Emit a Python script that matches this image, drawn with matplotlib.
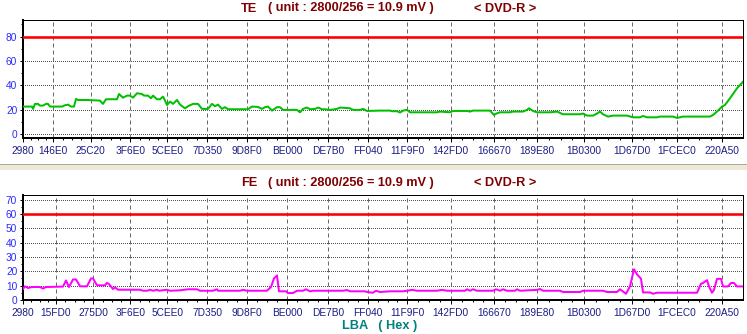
import matplotlib
matplotlib.use("Agg")
import matplotlib.pyplot as plt
from matplotlib.lines import Line2D
from matplotlib.patches import Rectangle
from matplotlib.ticker import FixedLocator
import numpy as np

# ---------------- data ----------------
te_pos = [0, 9, 10, 12, 15, 17, 20, 23, 25, 27, 39, 42, 45, 48, 51, 53, 55, 64, 77, 80,
          83, 94, 96, 100, 104, 107, 110, 114, 119, 121, 125, 128, 130, 134, 137, 140, 142, 144, 147, 150,
          154, 157, 162, 165, 170, 175, 179, 185, 189, 192, 195, 199, 202, 205, 225, 229, 235, 239, 242, 245,
          249, 254, 257, 260, 274, 277, 280, 284, 287, 292, 295, 299, 302, 307, 314, 317, 327, 330, 337, 340,
          344, 357, 367, 369, 374, 377, 380, 384, 387, 414, 417, 427, 430, 444, 447, 450, 467, 471, 474, 477,
          487, 490, 500, 504, 506, 510, 514, 527, 534, 540, 557, 560, 564, 570, 574, 577, 580, 585, 590, 604,
          610, 617, 620, 624, 634, 637, 650, 654, 660, 687, 690, 694, 699, 702, 707, 710, 714, 717, 720]
te_val = [22.7, 22.7, 20.8, 24.9, 24.9, 23.5, 23.5, 24.9, 24.9, 22.7, 22.7, 23.8, 24.3, 22.7, 22.7, 29.0, 28.1, 28.1, 27.6, 24.9,
          28.7, 28.7, 33.0, 30.0, 31.7, 31.7, 30.0, 33.6, 33.0, 31.7, 31.7, 29.5, 31.7, 28.7, 28.7, 30.9, 27.6, 24.0, 26.8, 24.9,
          28.1, 24.3, 21.3, 23.0, 24.9, 24.9, 20.8, 20.8, 24.9, 23.0, 24.3, 20.8, 22.2, 20.5, 20.5, 22.7, 22.4, 20.8, 22.2, 22.7,
          19.4, 22.2, 22.2, 20.0, 20.0, 18.0, 20.8, 21.9, 20.5, 20.8, 21.9, 20.5, 20.5, 19.9, 20.8, 21.9, 21.3, 20.0, 20.0, 20.8,
          19.1, 19.4, 19.4, 18.9, 18.9, 17.8, 19.4, 20.0, 18.0, 18.0, 18.6, 18.0, 19.1, 19.1, 18.6, 19.4, 19.4, 15.8, 17.2, 18.0,
          18.0, 18.6, 18.6, 20.0, 21.3, 19.1, 18.0, 18.0, 18.6, 16.4, 16.4, 17.0, 15.3, 15.3, 17.0, 18.6, 16.4, 14.5, 15.3, 15.3,
          13.9, 13.9, 15.0, 13.9, 13.9, 14.5, 14.5, 13.4, 14.5, 14.5, 15.8, 18.6, 22.7, 24.0, 29.5, 33.0, 37.7, 40.4, 43.0]

fe_pos = [0, 2, 5, 9, 17, 20, 23, 40, 43, 46, 50, 53, 57, 64, 68, 70, 74, 82, 84, 86,
          90, 92, 95, 117, 120, 124, 127, 130, 134, 136, 144, 147, 157, 165, 174, 177, 190, 194, 195, 217,
          220, 224, 244, 248, 251, 254, 256, 263, 265, 270, 274, 280, 283, 287, 290, 320, 324, 327, 342, 344,
          350, 353, 357, 367, 380, 384, 389, 394, 414, 419, 424, 442, 444, 447, 450, 454, 470, 473, 477, 480,
          484, 492, 494, 497, 514, 517, 520, 537, 540, 557, 560, 580, 584, 594, 597, 603, 607, 611, 614, 618,
          620, 627, 630, 634, 637, 674, 678, 680, 684, 686, 689, 691, 694, 698, 700, 705, 708, 711, 714, 720]
fe_val = [7.6, 9.5, 8.3, 9.0, 9.0, 7.9, 9.0, 9.3, 13.6, 9.0, 14.3, 14.3, 9.5, 9.5, 15.0, 15.0, 10.2, 10.2, 11.9, 11.0,
          7.6, 8.8, 7.1, 7.1, 6.4, 6.4, 7.1, 6.4, 7.1, 6.4, 7.1, 6.4, 6.7, 7.4, 7.4, 6.4, 6.4, 7.4, 6.4, 6.4,
          7.0, 6.4, 6.4, 9.0, 15.0, 17.1, 6.0, 6.0, 4.8, 4.8, 6.4, 6.4, 7.4, 6.0, 6.4, 6.4, 6.9, 6.0, 6.0, 5.5,
          5.0, 6.4, 5.5, 6.0, 6.0, 6.4, 7.0, 6.4, 6.4, 7.0, 6.4, 6.4, 7.4, 6.4, 7.4, 6.4, 6.4, 7.4, 6.4, 7.4,
          6.4, 6.4, 7.4, 6.4, 7.0, 7.6, 6.4, 6.4, 5.5, 5.5, 6.4, 6.4, 5.5, 5.5, 7.4, 4.3, 9.5, 21.4, 17.9, 14.8,
          5.2, 5.2, 4.3, 5.0, 5.0, 5.0, 11.3, 11.8, 13.8, 9.4, 5.0, 7.0, 14.7, 14.7, 9.4, 9.4, 11.8, 11.8, 9.4, 9.4]

te_limit = 80
fe_limit = 60

te_tick_pos = [0, 30.3, 67.7, 107.3, 144.3, 184.3, 224.3, 264.3, 304.7, 344.7,
               384.3, 427.7, 471.3, 514.3, 561, 608.7, 654, 698.7]
te_tick_labels = ["2980", "146E0", "25C20", "3F6E0", "5CEE0", "7D350", "9D8F0", "BE000", "DE7B0", "FF040",
                  "11F9F0", "142FD0", "166670", "189E80", "1B0300", "1D67D0", "1FCEC0", "220A50"]
fe_tick_pos = [0, 33, 70.3, 107.3, 144.3, 184.3, 224.3, 264.3, 304.7, 344.7,
               384.3, 427.7, 471.3, 514.3, 561, 608.7, 654, 698.7]
fe_tick_labels = ["2980", "15FD0", "275D0", "3F6E0", "5CEE0", "7D350", "9D8F0", "BE000", "DE7B0", "FF040",
                  "11F9F0", "142FD0", "166670", "189E80", "1B0300", "1D67D0", "1FCEC0", "220A50"]

te_yticks = [0, 20, 40, 60, 80]
fe_yticks = [0, 10, 20, 30, 40, 50, 60, 70]

# ---------------- figure ----------------
plt.rcParams['lines.scale_dashes'] = False
plt.rcParams['font.family'] = ['Liberation Sans', 'DejaVu Sans']

W, H = 747, 334
PX = 0.72  # points per pixel at dpi 100
fig = plt.figure(figsize=(W / 100, H / 100), dpi=100)
fig.patch.set_facecolor('white')

# separator band between the two panels
fig.add_artist(Rectangle((0, 1 - 169.5 / H), 1, 5.5 / H, transform=fig.transFigure,
                         facecolor='#ECE9D8', edgecolor='none'))
fig.add_artist(Line2D([0, 1], [1 - 164 / H] * 2, transform=fig.transFigure, color='#ACA899', lw=PX))


def make_panel(top_px, bottom_px, pos, vals, color, limit, ylim, yticks, yminor,
               tick_pos, tick_labels, name, title_y):
    left_px, right_px = 23, 743
    ax = fig.add_axes([left_px / W, 1 - bottom_px / H, (right_px - left_px) / W, (bottom_px - top_px) / H])
    ax.set_xlim(0, 720)
    ax.set_ylim(*ylim)
    ax.set_facecolor('white')

    # grid
    for gy in yticks:
        ax.axhline(gy, color='#505050', lw=PX, linestyle=(0, (PX, 2 * PX)), zorder=1, antialiased=False)
    for gx in tick_pos[1:]:
        ax.axvline(gx, color='#6a6a6a', lw=PX, linestyle=(0, (4 * PX, 3 * PX)), zorder=1)

    ax.axhline(limit, color='#FF0000', lw=2.6 * PX, zorder=3)
    ax.plot(pos, vals, color=color, lw=2 * PX, zorder=4, solid_joinstyle='round')

    # spines
    for s in ['top', 'right']:
        ax.spines[s].set_linewidth(PX)
        ax.spines[s].set_color('black')
    for s in ['left', 'bottom']:
        ax.spines[s].set_linewidth(2 * PX)
        ax.spines[s].set_color('black')

    ax.set_xticks(tick_pos)
    ax.set_xticklabels(tick_labels)
    minors = np.concatenate([np.linspace(a, b, 5)[1:-1] for a, b in zip(tick_pos[:-1], tick_pos[1:])])
    ax.xaxis.set_minor_locator(FixedLocator(minors))
    ax.set_yticks(yticks)
    ax.yaxis.set_minor_locator(FixedLocator(yminor))

    ax.tick_params(axis='x', which='major', length=4 * PX, width=PX, pad=3, labelsize=7.3,
                   labelcolor='#1c1c84', color='black')
    ax.tick_params(axis='x', which='minor', length=2.5 * PX, width=PX, color='black')
    ax.tick_params(axis='y', which='major', length=3 * PX, width=PX, pad=2, labelsize=7.3,
                   labelcolor='#2a2aff', color='black')
    ax.tick_params(axis='y', which='minor', length=2 * PX, width=PX, color='black')

    # title pieces
    tc = '#800000'
    fig.text(241 / W, 1 - title_y / H, name, color=tc, fontsize=9.2, fontweight='bold',
             ha='left', va='center')
    fig.text(268 / W, 1 - title_y / H, "( unit : 2800/256 = 10.9 mV )", color=tc, fontsize=9.2,
             fontweight='bold', ha='left', va='center')
    fig.text(474 / W, 1 - title_y / H, "< DVD-R >", color=tc, fontsize=9.2, fontweight='bold',
             ha='left', va='center')
    return ax


make_panel(20.3, 138.3, te_pos, te_val, '#00C000', te_limit, (-3.3, 93.4), te_yticks,
           [10, 30, 50, 70, 90], te_tick_pos, te_tick_labels, "TE", 8.5)
make_panel(195.3, 300.3, fe_pos, fe_val, '#FF00FF', fe_limit, (-0.3, 73.2), fe_yticks,
           [5, 15, 25, 35, 45, 55, 65], fe_tick_pos, fe_tick_labels, "FE", 183.3)

fig.text(342 / W, 1 - 325.5 / H, "LBA   ( Hex )", color='#008080', fontsize=9.2, fontweight='bold',
         ha='left', va='center')

fig.savefig('out.png', dpi=100, facecolor='white')
